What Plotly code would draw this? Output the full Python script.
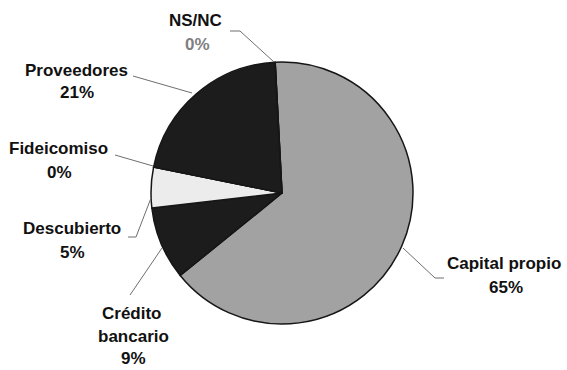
import plotly.graph_objects as go

# ---- data ----
labels = ["Capital propio", "Crédito bancario", "Descubierto", "Fideicomiso", "Proveedores", "NS/NC"]
values = [65, 9, 5, 0, 21, 0]
slice_colors = ["#a2a2a2", "#1c1c1c", "#ececec", "#ececec", "#1c1c1c", "#a2a2a2"]

W, H = 567, 370

def px(x, y):
    return x / W, 1 - y / H

fig = go.Figure()
fig.add_trace(go.Pie(
    labels=labels,
    values=values,
    sort=False,
    direction="clockwise",
    rotation=-3,
    textinfo="none",
    hoverinfo="label+percent",
    marker=dict(colors=slice_colors, line=dict(color="#161616", width=1.5)),
    domain=dict(x=[151 / W, 413 / W], y=[(H - 324) / H, (H - 62) / H]),
    showlegend=False,
))

# label layout (text lines, centre positions in pixels, leader-line points)
label_layout = {
    "Capital propio": dict(lines=["Capital propio"], pos=[(504, 263), (506, 287)],
                           path=[(444, 278), (435, 278), (403, 248)]),
    "Crédito bancario": dict(lines=["Crédito", "bancario"], pos=[(132, 313), (133, 336), (133, 358)],
                             path=[(130, 295), (162, 248)]),
    "Descubierto": dict(lines=["Descubierto"], pos=[(72, 228), (72, 252)],
                        path=[(128, 237), (136, 237), (151, 198)]),
    "Fideicomiso": dict(lines=["Fideicomiso"], pos=[(58, 148), (59, 172)],
                        path=[(115, 155), (153, 166)]),
    "Proveedores": dict(lines=["Proveedores"], pos=[(76, 70), (77, 92)],
                        path=[(133, 76), (192, 93)]),
    "NS/NC": dict(lines=["NS/NC"], pos=[(195, 20), (197, 45)],
                  path=[(230, 31), (240, 31), (274, 62)]),
}

font_family = "Liberation Sans, Arial, sans-serif"
annotations = []
shapes = []
for lab, val in zip(labels, values):
    cfg = label_layout[lab]
    texts = cfg["lines"] + [f"{val}%"]
    for i, (t, (x, y)) in enumerate(zip(texts, cfg["pos"])):
        xp, yp = px(x, y)
        color = "#111111"
        if lab == "NS/NC" and i == len(texts) - 1:
            color = "#808080"
        annotations.append(dict(
            x=xp, y=yp, xref="paper", yref="paper", text=f"<b>{t}</b>",
            showarrow=False, xanchor="center", yanchor="middle",
            font=dict(family=font_family, size=17, color=color),
        ))
    pts = cfg["path"]
    d = "M " + " L ".join(f"{px(x, y)[0]},{px(x, y)[1]}" for x, y in pts)
    shapes.append(dict(type="path", path=d, xref="paper", yref="paper",
                       line=dict(color="#6e6e6e", width=1)))

fig.update_layout(
    width=W, height=H,
    margin=dict(l=0, r=0, t=0, b=0),
    paper_bgcolor="white", plot_bgcolor="white",
    annotations=annotations,
    shapes=shapes,
)

fig.write_html("out.html", config={"displayModeBar": False},
               post_script="document.body.style.margin='0';")
